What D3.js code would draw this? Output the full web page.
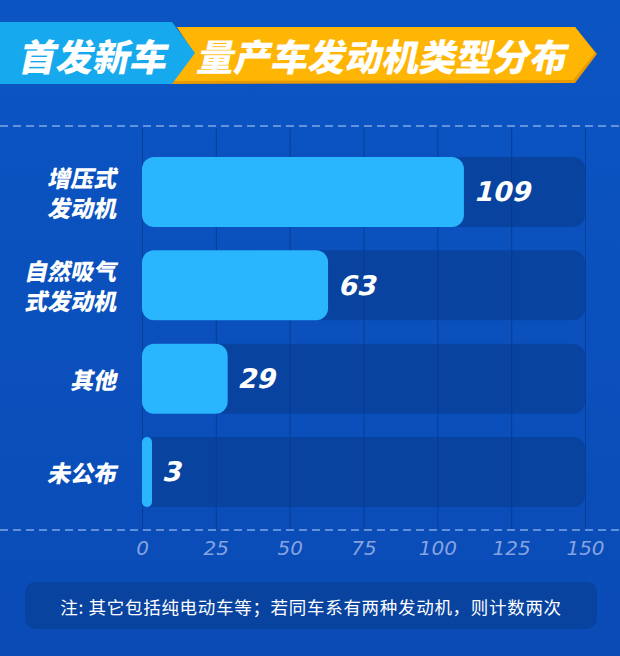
<!DOCTYPE html>
<html><head><meta charset="utf-8">
<script src="https://cdn.jsdelivr.net/npm/d3@7"></script>
<style>html,body{margin:0;padding:0;background:#0b50bd;overflow:hidden;}</style>
</head><body><svg id="c" width="620" height="656"></svg>
<script>
const categories = [["增压式","发动机"],["自然吸气","式发动机"],["其他"],["未公布"]];
const values = [109, 63, 29, 3];
const tickValues = [0, 25, 50, 75, 100, 125, 150];
const titleLeft = "首发新车";
const titleRight = "量产车发动机类型分布";
const note = "注: 其它包括纯电动车等；若同车系有两种发动机，则计数两次";

const svg = d3.select("#c");
const W = 620, H = 656;
const cjk = "'Noto Sans CJK SC','Noto Sans CJK JP',sans-serif";
const num = "'DejaVu Sans','Liberation Sans',sans-serif";

// background
const defs = svg.append("defs");
const bg = defs.append("linearGradient").attr("id","bg").attr("x1",0).attr("y1",0).attr("x2",0).attr("y2",1);
bg.append("stop").attr("offset",0).attr("stop-color","#0b55c3");
bg.append("stop").attr("offset",1).attr("stop-color","#0a4bb6");
svg.append("rect").attr("width",W).attr("height",H).attr("fill","url(#bg)");

// title banner
svg.append("polygon").attr("points","177,27 575,27 597,54 575,83 170,84 194,53").attr("fill","#e99a00");
svg.append("polygon").attr("points","177,27 575,27 595,53 573,80 172,81 194,53").attr("fill","#ffb503");
svg.append("polygon").attr("points","0,22 172,22 195,53 172,84 0,84").attr("fill","#16a9ee");
svg.append("text").attr("transform","translate(95,55) skewX(-12)")
  .attr("text-anchor","middle").attr("dominant-baseline","central")
  .attr("font-family",cjk).attr("font-weight",900).attr("font-size",37)
  .attr("fill","#fff").text(titleLeft);
svg.append("text").attr("transform","translate(384,55) skewX(-12)")
  .attr("text-anchor","middle").attr("dominant-baseline","central")
  .attr("font-family",cjk).attr("font-weight",900).attr("font-size",37)
  .attr("fill","#fff").text(titleRight);

// scales
const x = d3.scaleLinear().domain([0,150]).range([142,585]);
const y = d3.scaleBand().domain(d3.range(values.length)).range([133.7,530.3]).padding(0.25);
const r = 12;

// dashed lines
[126, 530].forEach(yy => {
  svg.append("line").attr("x1",0).attr("x2",W).attr("y1",yy).attr("y2",yy)
    .attr("stroke","#7fa8e6").attr("stroke-width",1.6).attr("stroke-dasharray","8,5");
});

// tracks
svg.append("g").selectAll("rect").data(values).join("rect")
  .attr("x",x(0)).attr("y",(d,i)=>y(i)).attr("width",x(150)-x(0)).attr("height",y.bandwidth())
  .attr("rx",r).attr("fill","#0843a0");

// gridlines
svg.append("g").selectAll("line").data(tickValues).join("line")
  .attr("x1",d=>x(d)+0.5).attr("x2",d=>x(d)+0.5).attr("y1",128).attr("y2",529)
  .attr("stroke","#073a8e").attr("stroke-width",1).attr("opacity",0.8);

// bars
svg.append("g").selectAll("rect").data(values).join("rect")
  .attr("x",x(0)).attr("y",(d,i)=>y(i))
  .attr("width",d=>Math.max(x(d)-x(0),10)).attr("height",y.bandwidth())
  .attr("rx",d=>Math.min(r,Math.max(x(d)-x(0),10)/2)).attr("fill","#29b6fe");

// value labels
svg.append("g").selectAll("text").data(values).join("text")
  .attr("transform",(d,i)=>`translate(${Math.max(x(d),x(0)+10)+12},${y(i)+y.bandwidth()/2}) skewX(-14)`)
  .attr("dominant-baseline","central")
  .attr("font-family",num).attr("font-weight","bold").attr("font-size",27)
  .attr("fill","#fff").text(d=>d);

// category labels
const cat = svg.append("g");
categories.forEach((lines,i)=>{
  const cy = y(i)+y.bandwidth()/2;
  lines.forEach((t,j)=>{
    const off = (j-(lines.length-1)/2)*30;
    cat.append("text").attr("transform",`translate(118,${cy+off}) skewX(-12)`)
      .attr("text-anchor","end").attr("dominant-baseline","central")
      .attr("font-family",cjk).attr("font-weight",900).attr("font-size",23)
      .attr("fill","#fff").text(t);
  });
});

// axis ticks
const axis = d3.axisBottom(x).tickValues(tickValues).tickSize(0).tickPadding(0);
const ag = svg.append("g").attr("transform","translate(0,540)").call(axis);
ag.select(".domain").remove();
ag.selectAll("text")
  .attr("y",8).attr("dy","0.35em")
  .attr("font-family",num).attr("font-size",20).attr("font-style","italic")
  .attr("fill","#93ade6").attr("opacity",0.9);

// note box
svg.append("rect").attr("x",25).attr("y",582).attr("width",572).attr("height",47).attr("rx",10).attr("fill","#0843a0");
svg.append("text").attr("x",311).attr("y",606).attr("text-anchor","middle").attr("dominant-baseline","central")
  .attr("font-family",cjk).attr("font-size",17.5).attr("letter-spacing",0.7)
  .attr("fill","#fff").text(note);
</script></body></html>
